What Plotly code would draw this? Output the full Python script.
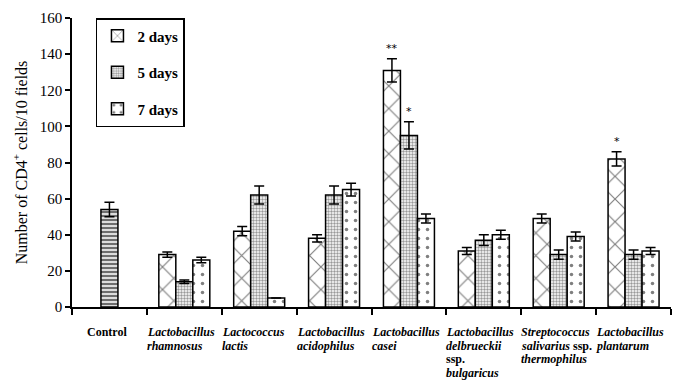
import plotly.graph_objects as go

# Data: CD4+ cell counts per 10 fields, mean and error
# Each category label is given as its lines (HTML markup for bold/italic)
categories = [
    ["<b>Control</b>"],
    ["<b><i>Lactobacillus</i></b>", "<b><i>rhamnosus</i></b>"],
    ["<b><i>Lactococcus</i></b>", "<b><i>lactis</i></b>"],
    ["<b><i>Lactobacillus</i></b>", "<b><i>acidophilus</i></b>"],
    ["<b><i>Lactobacillus</i></b>", "<b><i>casei</i></b>"],
    ["<b><i>Lactobacillus</i></b>", "<b><i>delbrueckii</i></b>", "<b>ssp.</b>", "<b><i>bulgaricus</i></b>"],
    ["<b><i>Streptococcus</i></b>", "<b><i>salivarius</i> ssp.</b>", "<b><i>thermophilus</i></b>"],
    ["<b><i>Lactobacillus</i></b>", "<b><i>plantarum</i></b>"],
]
control_value = [54]
control_err = [4]

days2 = [29, 42, 38, 131, 31, 49, 82]
days2_err = [1.5, 2.5, 2, 6.5, 2, 2.5, 4]
days5 = [14, 62, 62, 95, 37, 29, 29]
days5_err = [1, 5, 5, 7.5, 3, 2.5, 2.5]
days7 = [26, 5, 65, 49, 40, 39, 31]
days7_err = [1.5, 0, 3.5, 2.5, 2.5, 2.5, 2]

# significance marks: (series index, category index, label)
signif = [(0, 3, "**"), (1, 3, "*"), (0, 6, "*")]

FONT = "Liberation Serif"
W = 0.227  # bar width in category units

treat_x = list(range(1, len(categories)))

fig = go.Figure()

fig.add_trace(go.Bar(
    x=[0], y=control_value, width=W, offset=-0.5 * W,
    marker=dict(color="white", line=dict(color="black", width=1.5),
                pattern=dict(shape="-", size=4, solidity=0.5, fgcolor="#000", bgcolor="#ddd")),
    error_y=dict(type="data", array=control_err, color="black", thickness=1.5, width=5),
    showlegend=False,
))

series = [
    ("2 days", days2, days2_err, dict(shape="x", size=16, solidity=0.14, fgcolor="black", bgcolor="white")),
    ("5 days", days5, days5_err, dict(shape=".", size=3, solidity=0.5, fgcolor="#333", bgcolor="white")),
    ("7 days", days7, days7_err, dict(shape=".", size=9, solidity=0.12, fgcolor="black", bgcolor="white")),
]
for k, (name, vals, errs, pat) in enumerate(series):
    fig.add_trace(go.Bar(
        x=treat_x, y=vals, name=name, width=W, offset=(k - 1.5) * W,
        legendgroup=name,
        marker=dict(color="white", line=dict(color="black", width=1.5), pattern=pat),
        error_y=dict(type="data", array=errs, color="black", thickness=1.5, width=5),
    ))

for s, c, label in signif:
    vals, errs = series[s][1], series[s][2]
    fig.add_annotation(
        x=treat_x[c] + (s - 1) * W, y=vals[c] + errs[c], text=label,
        showarrow=False, yanchor="bottom", yshift=2,
        font=dict(family="DejaVu Sans", size=11, color="black"),
    )

# Category labels, line by line, left-aligned within each slot (Control centred)
LINE = 13.5
for i, lines in enumerate(categories):
    for j, line in enumerate(lines):
        if i == 0:
            xpos, anchor, xs = i, "center", -2
        else:
            xpos, anchor, xs = i - 0.5, "left", -2
        fig.add_annotation(x=xpos, y=0, xref="x", yref="paper", text=line, showarrow=False,
                           xanchor=anchor, yanchor="top", yshift=-16 - LINE * j, xshift=xs,
                           align="left", font=dict(family=FONT, size=12, color="black"))

fig.update_layout(
    width=678, height=380,
    margin=dict(l=72, r=7, t=18, b=73),
    plot_bgcolor="white", paper_bgcolor="white",
    barmode="overlay",
    font=dict(family=FONT, size=14, color="black"),
    legend=dict(
        x=0.04, y=1.0, xanchor="left", yanchor="top",
        bordercolor="black", borderwidth=1.5, bgcolor="white",
        font=dict(family=FONT, size=15, color="black", weight="bold"),
        tracegroupgap=14, itemwidth=30,
    ),
    xaxis=dict(
        range=[-0.5, len(categories) - 0.5],
        tickvals=[i - 0.5 for i in range(len(categories) + 1)],
        showticklabels=False,
        ticks="outside", ticklen=6, tickcolor="black", tickwidth=1.5,
        showline=True, linecolor="black", linewidth=1.5,
        showgrid=False, zeroline=False,
    ),
    yaxis=dict(
        range=[0, 160], dtick=20,
        ticks="outside", ticklen=5, tickcolor="black", tickwidth=1.5,
        showline=True, linecolor="black", linewidth=1.5,
        showgrid=False, zeroline=False,
        tickfont=dict(family=FONT, size=15),
        title=dict(text="Number of CD4<sup>+</sup> cells/10 fields",
                   font=dict(family=FONT, size=16), standoff=8),
    ),
)

fig.write_html("out.html")
